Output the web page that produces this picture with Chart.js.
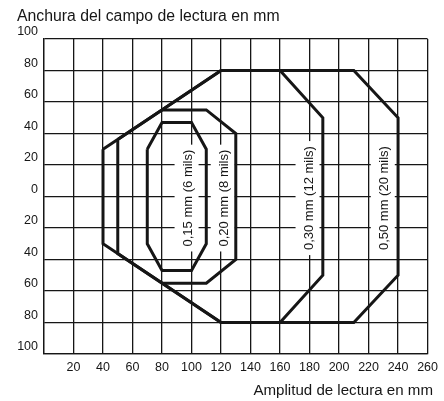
<!DOCTYPE html>
<html>
<head>
<meta charset="utf-8">
<script src="https://cdn.jsdelivr.net/npm/chart.js@4/dist/chart.umd.min.js"></script>
<style>
  html, body { margin: 0; padding: 0; background: #fff; }
</style>
</head>
<body>
<canvas id="chart" width="444" height="401"></canvas>
<script>
// 軸タイトル
const yAxisTitle = 'Anchura del campo de lectura en mm';
const xAxisTitle = 'Amplitud de lectura en mm';

// 目盛り
const xTickValues = [0, 20, 40, 60, 80, 100, 120, 140, 160, 180, 200, 220, 240, 260];
const xTickLabels = ['', '20', '40', '60', '80', '100', '120', '140', '160', '180', '200', '220', '240', '260'];
const yTickValues = [-100, -80, -60, -40, -20, 0, 20, 40, 60, 80, 100];
const yTickLabels = ['100', '80', '60', '40', '20', '0', '20', '40', '60', '80', '100'];

// 読取範囲 (x: 距離 mm, y: 幅 mm)
const field050X = [40, 120, 210, 240, 240, 210, 120, 40, 40];
const field050Y = [30, 80, 80, 50, -50, -80, -80, -30, 30];
const field030X = [50, 120, 160, 189, 189, 160, 120, 50, 50];
const field030Y = [36.25, 80, 80, 50, -50, -80, -80, -36.25, 36.25];
const field020X = [80, 110, 130, 130, 110, 80];
const field020Y = [55, 55, 40, -40, -55, -55];
const field015X = [70, 80, 100, 110, 110, 100, 80, 70, 70];
const field015Y = [30, 47, 47, 30, -30, -47, -47, -30, 30];

// 範囲ラベル
const fieldLabels = ['0,15 mm (6 mils)', '0,20 mm (8 mils)', '0,30 mm (12 mils)', '0,50 mm (20 mils)'];
const fieldLabelX = [98, 122.5, 180, 231];
const fieldLabelY = [-1, -1, -1, -1];

const ink = '#161616';
const fontFamily = '"Liberation Sans", Arial, Helvetica, sans-serif';

function toPoints(xs, ys) {
    return xs.map((x, i) => ({ x: x, y: ys[i] }));
}

function fieldDataset(xs, ys) {
    return {
        data: toPoints(xs, ys),
        showLine: true,
        borderColor: ink,
        borderWidth: 3,
        pointRadius: 0,
        tension: 0,
        fill: false
    };
}

// 範囲ラベル（白背景付き、縦書き）とタイトル
const fieldLabelPlugin = {
    id: 'fieldLabels',
    beforeDatasetsDraw(chart) {
        const ctx = chart.ctx;
        const xs = chart.scales.x;
        const ys = chart.scales.y;
        ctx.save();
        ctx.font = '13px ' + fontFamily;
        ctx.textAlign = 'center';
        ctx.textBaseline = 'middle';
        fieldLabels.forEach((text, i) => {
            const px = xs.getPixelForValue(fieldLabelX[i]);
            const py = ys.getPixelForValue(fieldLabelY[i]);
            const w = ctx.measureText(text).width;
            ctx.save();
            ctx.translate(px, py);
            ctx.rotate(-Math.PI / 2);
            ctx.fillStyle = '#fff';
            ctx.fillRect(-w / 2 - 5, -14, w + 10, 24);
            ctx.fillStyle = ink;
            ctx.fillText(text, 0, 0);
            ctx.restore();
        });
        ctx.restore();
    },
    afterDraw(chart) {
        const ctx = chart.ctx;
        ctx.save();
        ctx.fillStyle = ink;
        ctx.textBaseline = 'alphabetic';
        ctx.font = '15.8px ' + fontFamily;
        ctx.textAlign = 'left';
        ctx.fillText(yAxisTitle, 17, 21);
        ctx.font = '15.1px ' + fontFamily;
        ctx.textAlign = 'right';
        ctx.fillText(xAxisTitle, 433, 395);
        ctx.restore();
    }
};

new Chart(document.getElementById('chart'), {
    type: 'scatter',
    data: {
        datasets: [
            fieldDataset(field050X, field050Y),
            fieldDataset(field030X, field030Y),
            fieldDataset(field020X, field020Y),
            fieldDataset(field015X, field015Y)
        ]
    },
    options: {
        responsive: false,
        animation: false,
        layout: { padding: { left: 0, right: 15, top: 39, bottom: 0 } },
        plugins: {
            legend: { display: false },
            tooltip: { enabled: false }
        },
        scales: {
            x: {
                type: 'linear',
                min: 0,
                max: 260,
                afterBuildTicks: s => { s.ticks = xTickValues.map(v => ({ value: v })); },
                afterFit: s => { s.height = 47; },
                grid: { color: ink, lineWidth: 1.3, drawTicks: false },
                border: { color: ink, width: 1.3 },
                ticks: {
                    callback: (v, i) => xTickLabels[i],
                    autoSkip: false,
                    maxRotation: 0,
                    padding: 6,
                    color: ink,
                    font: { family: fontFamily, size: 12.5 }
                }
            },
            y: {
                type: 'linear',
                min: -100,
                max: 100,
                afterBuildTicks: s => { s.ticks = yTickValues.map(v => ({ value: v })); },
                afterFit: s => { s.width = 44; },
                grid: { color: ink, lineWidth: 1.3, drawTicks: false },
                border: { color: ink, width: 1.3 },
                ticks: {
                    callback: (v, i) => yTickLabels[i],
                    autoSkip: false,
                    padding: 6,
                    labelOffset: -7,
                    color: ink,
                    font: { family: fontFamily, size: 12.5 }
                }
            }
        }
    },
    plugins: [fieldLabelPlugin]
});
</script>
</body>
</html>
